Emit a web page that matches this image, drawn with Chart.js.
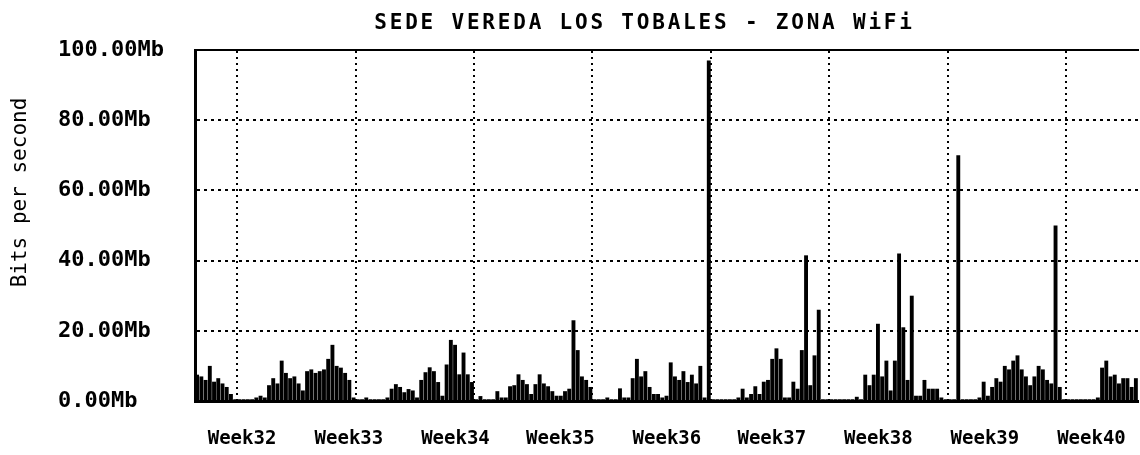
<!DOCTYPE html>
<html>
<head>
<meta charset="utf-8">
<title>SEDE VEREDA LOS TOBALES - ZONA WiFi</title>
<script src="https://cdn.jsdelivr.net/npm/chart.js@4.4.1/dist/chart.umd.min.js"></script>
<style>
    html, body { margin: 0; padding: 0; background: #fff; }
    #trafico { display: block; }
</style>
</head>
<body>
<canvas id="trafico" width="1140" height="455"></canvas>
<script>
// Valores en Mb, muestras de 1/4 de dia, agrupadas entre las lineas de semana
var seg0 = [7.5, 7, 6, 10, 5.5, 6.5, 5, 4, 2, 0.5];
var seg1 = [0.5, 0.5, 0.5, 0.5, 1, 1.5, 1, 4.5, 6.5, 5, 11.5, 8, 6.5, 7, 5, 3, 8.5, 9, 8, 8.5, 9, 12, 16, 10, 9.5, 8, 6, 1];
var seg2 = [0.5, 0.5, 1, 0.5, 0.5, 0.5, 0.5, 1, 3.5, 4.8, 4, 2.5, 3.4, 3, 1, 6, 8.2, 9.6, 8.5, 5.4, 1.5, 10.4, 17.4, 16, 7.6, 13.8, 7.6, 5.4];
var seg3 = [0.5, 1.4, 0.5, 0.5, 0.5, 2.8, 1, 1, 4.2, 4.5, 7.6, 6, 4.8, 2, 4.8, 7.6, 5, 4.2, 2.8, 1.5, 1.5, 2.8, 3.5, 23, 14.5, 7, 6, 4];
var seg4 = [0.5, 0.5, 0.5, 1, 0.5, 0.5, 3.6, 1, 1, 6.5, 12, 7, 8.5, 4, 2, 2, 1, 1.5, 11, 7, 6, 8.5, 5.4, 7.5, 5, 10, 1, 97];
var seg5 = [0.5, 0.5, 0.5, 0.5, 0.5, 0.5, 1, 3.5, 1, 2, 4.2, 2, 5.5, 6, 12, 15, 12, 1, 1, 5.5, 3.5, 14.5, 41.5, 4.5, 13, 26, 0.5, 0.5];
var seg6 = [0.5, 0.5, 0.5, 0.5, 0.5, 0.5, 1.2, 0.5, 7.5, 4.5, 7.5, 22, 7, 11.5, 3, 11.5, 42, 21, 6, 30, 1.5, 1.5, 6, 3.5, 3.5, 3.5, 1, 0.5];
var seg7 = [0.5, 0.5, 70, 0.5, 0.5, 0.5, 0.5, 1, 5.5, 1.5, 4, 6.5, 5.5, 10, 9, 11.5, 13, 9, 7, 4.5, 7, 10, 9, 6, 5, 50, 4, 0.5];
var seg8 = [0.5, 0.5, 0.5, 0.5, 0.5, 0.5, 0.5, 1, 9.5, 11.5, 7, 7.5, 5, 6.5, 6.5, 4, 6.5];

var weekLabels = ['Week32', 'Week33', 'Week34', 'Week35', 'Week36', 'Week37', 'Week38', 'Week39', 'Week40'];
var weekLabelDays = [2.78, 9.1, 15.4, 21.6, 27.9, 34.1, 40.4, 46.7, 53.0];
var weekLineDays = [2.5, 9.5, 16.5, 23.5, 30.5, 37.5, 44.5, 51.5];
var yTicks = [0, 20, 40, 60, 80, 100];

var sampleDays = 0.25;
var titulo = 'SEDE VEREDA LOS TOBALES - ZONA WiFi';
var tituloEje = 'Bits per second';

document.addEventListener('DOMContentLoaded', function() {
    var valores = [].concat(seg0, seg1, seg2, seg3, seg4, seg5, seg6, seg7, seg8);
    var puntos = valores.map(function(v, i) {
        return { x: (i + 0.5) * sampleDays, y: v };
    });
    var maxDia = valores.length * sampleDays;
    var fuente = "'DejaVu Sans Mono', monospace";

    // titulo y nombre del eje, como en la grafica escaneada
    var textos = {
        id: 'textos',
        afterDraw: function(chart) {
            var c = chart.ctx;
            var area = chart.chartArea;
            c.save();
            c.fillStyle = '#000';
            c.textBaseline = 'middle';
            c.textAlign = 'center';
            c.font = 'bold 21px ' + fuente;
            c.letterSpacing = '2.8px';
            c.fillText(titulo, (area.left + area.right) / 2 - 22, 24);
            c.letterSpacing = '0px';
            c.translate(21, (area.top + area.bottom) / 2 - 33);
            c.rotate(-Math.PI / 2);
            c.font = '21px ' + fuente;
            c.fillText(tituloEje, 0, 0);
            c.restore();
        }
    };

    // sin margen extra por las etiquetas de semana
    function sinRelleno(axis) {
        axis.paddingLeft = 0;
        axis.paddingRight = 0;
    }

    var ctx = document.getElementById('trafico').getContext('2d');
    var chart = new Chart(ctx, {
        type: 'bar',
        data: {
            datasets: [{
                label: 'Trafico',
                data: puntos,
                xAxisID: 'x',
                yAxisID: 'y',
                backgroundColor: '#000',
                borderWidth: 0,
                barPercentage: 0.92,
                categoryPercentage: 1
            }]
        },
        options: {
            responsive: false,
            animation: false,
            devicePixelRatio: 1,
            layout: { padding: { top: 50, left: 58, right: 2, bottom: 0 } },
            plugins: {
                legend: { display: false },
                tooltip: { enabled: false },
                title: { display: false }
            },
            scales: {
                x: {
                    type: 'linear',
                    position: 'bottom',
                    offset: false,
                    min: 0,
                    max: maxDia,
                    afterBuildTicks: function(axis) {
                        axis.ticks = weekLabelDays.map(function(d) { return { value: d }; });
                    },
                    afterFit: function(axis) {
                        axis.height = 54;
                        sinRelleno(axis);
                    },
                    ticks: {
                        autoSkip: false,
                        maxRotation: 0,
                        padding: 27,
                        color: '#000',
                        font: { family: fuente, size: 19, weight: 'bold' },
                        callback: function(value, index) { return weekLabels[index]; }
                    },
                    grid: { display: false, offset: false, drawTicks: false, tickLength: 0 },
                    border: { display: true, color: '#000', width: 3 }
                },
                xg: {
                    type: 'linear',
                    position: 'top',
                    offset: false,
                    min: 0,
                    max: maxDia,
                    afterBuildTicks: function(axis) {
                        axis.ticks = weekLineDays.map(function(d) { return { value: d }; });
                    },
                    afterFit: function(axis) {
                        axis.height = 0;
                        sinRelleno(axis);
                    },
                    ticks: { display: false },
                    grid: { color: '#000', lineWidth: 2, offset: false, drawTicks: false, tickLength: 0 },
                    border: { display: true, color: '#000', width: 2, dash: [2, 4] }
                },
                y: {
                    type: 'linear',
                    min: 0,
                    max: 100,
                    afterBuildTicks: function(axis) {
                        axis.ticks = yTicks.map(function(v) { return { value: v }; });
                    },
                    afterFit: function(axis) { axis.width = 137; },
                    ticks: {
                        crossAlign: 'far',
                        color: '#000',
                        font: { family: fuente, size: 22, weight: 'bold' },
                        callback: function(value) { return value.toFixed(2) + 'Mb'; }
                    },
                    grid: { color: '#000', lineWidth: 2, drawTicks: false, tickLength: 0 },
                    border: { display: true, color: '#000', width: 3, dash: [3, 4] }
                }
            }
        },
        plugins: [textos]
    });
});
</script>
</body>
</html>
